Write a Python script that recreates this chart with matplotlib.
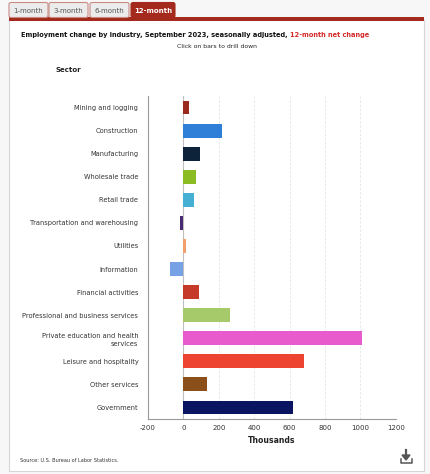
import matplotlib
matplotlib.use("Agg")
import matplotlib.pyplot as plt
from matplotlib.patches import Rectangle, FancyBboxPatch, Polygon

# Data (thousands, 12-month net change)
sectors = [
    "Mining and logging", "Construction", "Manufacturing", "Wholesale trade",
    "Retail trade", "Transportation and warehousing", "Utilities", "Information",
    "Financial activities", "Professional and business services",
    "Private education and health\nservices", "Leisure and hospitality",
    "Other services", "Government",
]
changes = [30, 216, 92, 70, 58, -21, 13, -77, 90, 265, 1010, 684, 135, 621]
bar_colors = [
    "#9b2a1e", "#2f7ed8", "#0d233a", "#8bbc21", "#45b0d3", "#492970", "#f2a06b",
    "#77a1e5", "#c63a2a", "#a6c96a", "#e85bcd", "#ec4430", "#8b4f1a", "#0a1562",
]
x_ticks = [-200, 0, 200, 400, 600, 800, 1000, 1200]
tabs = ["1-month", "3-month", "6-month", "12-month"]

W, H = 430, 474
fig = plt.figure(figsize=(W / 100, H / 100), dpi=100)
fig.patch.set_facecolor("#f7f7f7")

def px(x, y):
    return x / W, 1 - y / H

# white panel
bg = fig.add_axes([0, 0, 1, 1])
bg.set_xlim(0, W)
bg.set_ylim(H, 0)
bg.axis("off")
bg.add_patch(Rectangle((9, 20), 415, 451, facecolor="white", edgecolor="#d6d6d6", lw=0.8))
bg.add_patch(Rectangle((9, 17), 415, 3.5, facecolor="#a52a1e", edgecolor="none"))

# tabs
tab_x = [9, 49, 90, 131]
tab_w = [39, 39, 39, 44]
for i, t in enumerate(tabs):
    active = i == 3
    bg.add_patch(FancyBboxPatch((tab_x[i], 2.5), tab_w[i], 15, boxstyle="round,pad=0,rounding_size=2",
                                facecolor="#a52a1e" if active else "#ececec",
                                edgecolor="#a52a1e" if active else "#c98a84", lw=0.8))
    bg.text(tab_x[i] + tab_w[i] / 2, 10.5, t, ha="center", va="center", fontsize=5,
            color="white" if active else "#555555", fontweight="bold" if active else "normal")

# titles
t1 = fig.text(*px(21, 35), "Employment change by industry, September 2023, seasonally adjusted, ",
              fontsize=4.8, fontweight="bold", color="#111111", va="center", ha="left")
fig.canvas.draw()
bb = t1.get_window_extent()
fig.text(bb.x1 / W, 1 - 35 / H, "12-month net change", fontsize=4.8, fontweight="bold",
         color="#d42a2a", va="center", ha="left")
fig.text(*px(217, 47), "Click on bars to drill down", fontsize=4.4, color="#222222",
         ha="center", va="center")
fig.text(*px(55, 70), "Sector", fontsize=5, fontweight="bold", color="#222222", va="center")
fig.text(*px(20, 460), "Source: U.S. Bureau of Labor Statistics.", fontsize=3.6, color="#333333",
         va="center")

# download icon
bg.plot([400.5, 400.5, 411.5, 411.5], [459, 463, 463, 459], color="#555555", lw=1.1)
bg.plot([406, 406], [450, 456], color="#555555", lw=1.6)
bg.add_patch(Polygon([(402, 455), (410, 455), (406, 460)], closed=True, color="#555555"))

# chart
ax = fig.add_axes([148 / W, 1 - 419 / H, (395.7 - 148) / W, (419 - 96) / H])
y = list(range(len(sectors)))
ax.barh(y, changes, height=0.6, color=bar_colors, zorder=3)
ax.set_xlim(-200, 1200)
ax.set_ylim(len(sectors) - 0.5, -0.5)
ax.set_xticks(x_ticks)
ax.set_xticklabels([str(v) for v in x_ticks], fontsize=5, color="#333333")
ax.set_yticks(y)
ax.set_yticklabels(sectors, fontsize=4.8, color="#333333", linespacing=1.35)
ax.tick_params(axis="both", length=0)
ax.tick_params(axis="y", pad=7)
ax.tick_params(axis="x", pad=4)
for v in x_ticks[2:]:
    ax.axvline(v, color="#e4e4e4", lw=0.6, ls=(0, (3, 2)), zorder=1)
ax.axvline(0, color="#bfbfbf", lw=0.8, zorder=2)
for s in ["top", "right"]:
    ax.spines[s].set_visible(False)
ax.spines["left"].set_color("#999999")
ax.spines["bottom"].set_color("#999999")
ax.spines["left"].set_linewidth(0.8)
ax.spines["bottom"].set_linewidth(0.8)
ax.set_xlabel("Thousands", fontsize=5.6, fontweight="bold", color="#222222", labelpad=4)

fig.savefig("out.png", dpi=100, facecolor=fig.get_facecolor())
